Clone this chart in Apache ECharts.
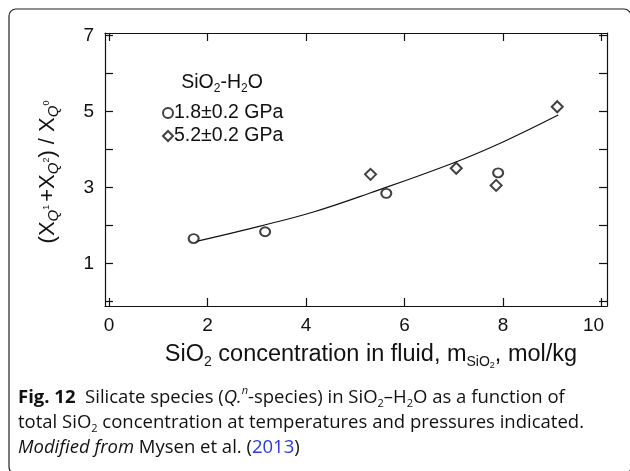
<!DOCTYPE html>
<html>
<head>
<meta charset="utf-8">
<script src="https://cdn.jsdelivr.net/npm/echarts@6/dist/echarts.min.js"></script>
<style>
  html, body { margin: 0; padding: 0; background: #fff; }
  #chart { width: 630px; height: 471px; }
</style>
</head>
<body>
<div id="chart"></div>
<script>
// Tick positions and labels
const xTickValues = [0, 2, 4, 6, 8, 10];
const yTickValues = [0, 1, 2, 3, 4, 5, 6, 7];
const yLabelValues = [1, 3, 5, 7];

// Measurements at 1.8 GPa (circles) and 5.2 GPa (diamonds): [m_SiO2, ratio]
const lowPressure = [[1.72, 1.65], [3.17, 1.83], [5.63, 2.84], [7.90, 3.38]];
const highPressure = [[5.31, 3.34], [7.05, 3.50], [7.86, 3.05], [9.10, 5.12]];

// Trend curve through the data
const trendCurve = [[1.75, 1.57], [3.07, 1.98], [4.15, 2.35], [5.30, 2.85], [6.99, 3.64], [8.01, 4.20], [9.12, 4.90]];

const lowName = '1.8±0.2 GPa';
const highName = '5.2±0.2 GPa';

const SANS = '"Liberation Sans", Arial, Helvetica, sans-serif';
const CAP = '"Open Sans", "Noto Sans", sans-serif';

const measureCtx = document.createElement('canvas').getContext('2d');
function fontStr(p, fam) {
  return (p.style || 'normal') + ' ' + (p.weight || 'normal') + ' ' + p.size + 'px ' + (p.family || fam);
}
// Lay out a run of text pieces (with sub/superscripts) as one group
function textRun(x, y, parts, fam, opts) {
  opts = opts || {};
  const widths = parts.map(p => { measureCtx.font = fontStr(p, fam); return measureCtx.measureText(p.t).width + (p.gap || 0); });
  const total = widths.reduce((a, b) => a + b, 0);
  let cx = opts.center ? -total / 2 : 0;
  const children = parts.map((p, i) => {
    const el = {
      type: 'text', x: cx, y: p.dy || 0,
      style: { text: p.t, font: fontStr(p, fam), fill: p.color || '#111', align: 'left', verticalAlign: 'middle' }
    };
    cx += widths[i];
    return el;
  });
  return { type: 'group', x: x, y: y, rotation: opts.rotation || 0, children: children };
}

const chart = echarts.init(document.getElementById('chart'), null, { renderer: 'canvas' });

const axisLine = { show: true, onZero: false, lineStyle: { color: '#111', width: 1.2 } };
const tickStyle = { color: '#111', width: 1.2 };
const LBL = 19;

const graphics = [
  // rounded frame around figure and caption
  { type: 'rect', shape: { x: 9, y: 9, width: 622, height: 465, r: 7 }, style: { fill: 'none', stroke: '#222', lineWidth: 1.2 }, silent: true },
  // legend heading
  textRun(222, 83, [
    { t: 'SiO', size: 19.5 }, { t: '2', size: 12, dy: 6 }, { t: '-H', size: 19.5 }, { t: '2', size: 12, dy: 6 }, { t: 'O', size: 19.5 }
  ], SANS, { center: true }),
  // x-axis title
  textRun(371, 355, [
    { t: 'SiO', size: 23.5 }, { t: '2', size: 14, dy: 7 }, { t: ' concentration in fluid, m', size: 23.5 },
    { t: 'SiO', size: 14, dy: 7 }, { t: '2', size: 9, dy: 11 }, { t: ', mol/kg', size: 23.5 }
  ], SANS, { center: true }),
  // y-axis title
  textRun(48, 172, [
    { t: '(', size: 22 }, { t: 'X', size: 22 }, { t: 'Q', size: 15, dy: 6, style: 'italic' }, { t: '1', size: 9, dy: -1, gap: 3 },
    { t: '+', size: 22 }, { t: 'X', size: 22 }, { t: 'Q', size: 15, dy: 6, style: 'italic' }, { t: '2', size: 9, dy: -1 },
    { t: ') / ', size: 22 }, { t: 'X', size: 22 }, { t: 'Q', size: 15, dy: 6, style: 'italic' }, { t: '0', size: 9, dy: -1 }
  ], SANS, { center: true, rotation: Math.PI / 2 }),
  // caption
  textRun(18, 398, [
    { t: 'Fig. 12', size: 18.5, weight: 'bold' }, { t: '  Silicate species (', size: 18.5 },
    { t: 'Q.', size: 18.5, style: 'italic' }, { t: 'n', size: 11, dy: -7, style: 'italic' },
    { t: '-species) in SiO', size: 18.5 }, { t: '2', size: 11, dy: 6 }, { t: '–H', size: 18.5 }, { t: '2', size: 11, dy: 6 },
    { t: 'O as a function of', size: 18.5 }
  ], CAP),
  textRun(18, 423, [
    { t: 'total SiO', size: 18.5 }, { t: '2', size: 11, dy: 6 }, { t: ' concentration at temperatures and pressures indicated.', size: 18.5 }
  ], CAP),
  textRun(18, 448, [
    { t: 'Modified from', size: 18.5, style: 'italic' }, { t: ' Mysen et al. (', size: 18.5 },
    { t: '2013', size: 18.5, color: '#2b3bd6' }, { t: ')', size: 18.5 }
  ], CAP)
];

const option = {
  animation: false,
  backgroundColor: '#fff',
  grid: { left: 105, right: 23, top: 33, bottom: 165, containLabel: false },
  legend: {
    data: [lowName, highName],
    orient: 'vertical', left: 157, top: 98,
    itemWidth: 10, itemHeight: 10, itemGap: 3,
    textStyle: { fontFamily: SANS, fontSize: 19.5, color: '#111', padding: [0, 0, 0, -4] },
    selectedMode: false
  },
  xAxis: [
    {
      type: 'value', position: 'bottom', min: -0.08, max: 10.11,
      axisLine: axisLine,
      axisTick: { show: true, inside: true, length: 8, lineStyle: tickStyle, customValues: xTickValues },
      axisLabel: {
        show: true, customValues: xTickValues, margin: 10, color: '#111', fontFamily: SANS, fontSize: LBL,
        formatter: v => (v === 10 ? '{r|10}' : String(v)),
        rich: { r: { fontFamily: SANS, fontSize: LBL, color: '#111', padding: [0, 16, 0, 0] } }
      },
      splitLine: { show: false }
    },
    {
      type: 'value', position: 'top', min: -0.08, max: 10.11,
      axisLine: axisLine,
      axisTick: { show: true, inside: true, length: 8, lineStyle: tickStyle, customValues: xTickValues },
      axisLabel: { show: false },
      splitLine: { show: false }
    }
  ],
  yAxis: [
    {
      type: 'value', position: 'left', min: -0.124, max: 7.06,
      axisLine: axisLine,
      axisTick: { show: true, inside: true, length: 8, lineStyle: tickStyle, customValues: yTickValues },
      axisLabel: { show: true, customValues: yLabelValues, margin: 11, color: '#111', fontFamily: SANS, fontSize: LBL },
      splitLine: { show: false }
    },
    {
      type: 'value', position: 'right', min: -0.124, max: 7.06,
      axisLine: axisLine,
      axisTick: { show: true, inside: true, length: 8, lineStyle: tickStyle, customValues: yTickValues },
      axisLabel: { show: false },
      splitLine: { show: false }
    }
  ],
  series: [
    {
      name: 'trend', type: 'line', data: trendCurve, smooth: 0.4, showSymbol: false, symbol: 'none',
      lineStyle: { color: '#111', width: 1.2 }, itemStyle: { color: '#111' }, z: 2
    },
    {
      name: lowName, type: 'scatter', data: lowPressure, symbol: 'emptyCircle', symbolSize: [10, 9],
      itemStyle: { color: '#111', borderColor: '#111', borderWidth: 1.05 }, z: 3
    },
    {
      name: highName, type: 'scatter', data: highPressure, symbol: 'emptyDiamond', symbolSize: 11,
      itemStyle: { color: '#111', borderColor: '#111', borderWidth: 1.05 }, z: 3
    }
  ],
  graphic: graphics
};

chart.setOption(option);
</script>
</body>
</html>
